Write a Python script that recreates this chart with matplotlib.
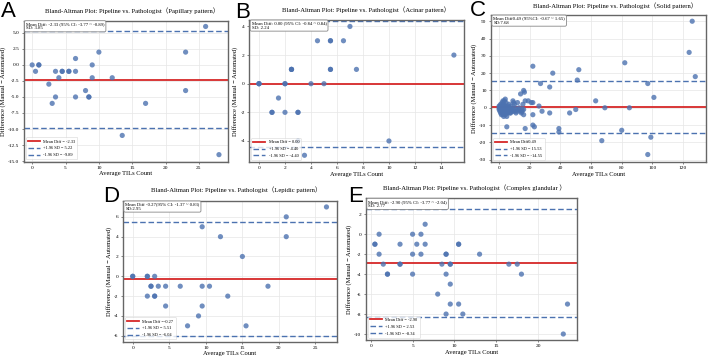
import numpy as np
import matplotlib
matplotlib.use('Agg')
import matplotlib.pyplot as plt

plt.rcParams['font.family'] = ['Liberation Serif', 'Noto Sans CJK SC', 'DejaVu Sans']
plt.rcParams['axes.unicode_minus'] = False

# ---------------- data ----------------
papillary_x = [0, 0.5, 1, 1, 2.5, 3, 3.5, 3.5, 4, 4.5, 4.5, 5.5, 5.5, 6.5, 6.5, 6.5,
               8, 8.5, 8.5, 9, 9, 10, 12, 13.5, 17, 23, 23, 26, 28]
papillary_y = [0, -1, 0, 0, -3, -6, -1, -5, -2, -1, -1, -1, -1, 1, -1, -5,
               -4, -5, -5, 0, -2, 2, -2, -11, -6, 2, -4, 6, -14]
papillary_stats = [-2.33, 5.22, -9.89]   # mean, +1.96SD, -1.96SD

acinar_x = [0, 0, 0, 1, 1, 1.5, 2, 2, 2, 2.5, 2.5, 2.5, 3, 3, 3, 3.5, 4, 4.5, 5,
            5.5, 5.5, 5.5, 5.5, 6.5, 7, 7.5, 10, 15]
acinar_y = [0, 0, 0, -2, -2, -1, 0, 0, -2, 1, 1, 1, -2, -2, -4, -5, 0, 3, 0,
            3, 3, 1, 1, 3, 4, 1, -4, 2]
acinar_stats = [0.00, 4.40, -4.40]

solid_x = [0, 0, 0, 0.5, 0.5, 0.5, 1, 1, 1, 1, 1,
           1.5, 1.5, 1.5, 1.5, 2, 2, 2, 2, 2,
           2.5, 2.5, 2.5, 2.5, 2.5, 3, 3, 3, 3, 3, 3,
           3.5, 3.5, 3.5, 3.5, 4, 4, 4, 4, 4,
           4.5, 4.5, 4.5, 5, 5, 5, 5.5, 5.5, 6, 6,
           6.5, 6.5, 7, 7, 7.5, 7.5, 8, 8.5, 9, 9,
           9.5, 9.5, 10, 10, 10.5, 11, 11.5, 12, 12, 13,
           13, 14, 14.5, 15, 15.5, 16, 16, 15,
           22, 35, 52, 51, 27, 33, 16, 16.5, 14, 17, 19, 21, 22, 26, 28, 33, 22, 22, 23, 17,
           5, 39, 39, 46, 50, 63, 69, 85, 82, 80, 67, 97, 101, 99, 97, 124, 126, 128]
solid_y = [0, -1, 1, 0, -2, 1, 0, -1, -3, 2, 0,
           -1, 1, -4, 0, 0, -2, 3, -3, -1,
           1, -1, -4, 4, 0, 2, 0, -2, -3, -5, -1,
           1, -1, -3, 4, 5, 0, -2, -4, 1,
           3, -1, -3, 0, -2, -5, 1, -3, 0, -2,
           -1, 2, 0, -3, 1, -3, -1, -2, 4, -1,
           3, -2, 0, 2, -2, -3, -1, 3, -2, 0,
           -1, -2, -3, -1, 2, -4, -1, -2,
           24, 20, 22, 16, 14, 12, 10, 9, 8, 4, 4, 3, 3, 1, -2, -3, -4, -10, -11, -12,
           -11, -12, -14, -3, -1, 4, 0, 0, 26, -13, -19, 14, 6, -17, -27, 32, 50, 18]
solid_stats = [0.49, 15.53, -14.55]

lepidic_x = [0, 0, 2, 2, 2, 2.5, 2.5, 3, 3, 3, 3.5, 4.5, 4.5, 6.5, 7.5, 9, 9.5, 9.5,
             9.5, 10.5, 12, 13, 15, 15.5, 18.5, 21, 21, 26.5]
lepidic_y = [0, 0, 0, 0, -2, -1, -1, 0, -2, -2, -1, -1, -3, -1, -5, -4, 5, -1,
             -3, -1, 4, -2, 2, -5, -1, 6, 4, 7]
lepidic_stats = [-0.27, 5.51, -6.04]

complex_x = [0.5, 0.5, 1, 1, 1.5, 2, 2, 3.5, 3.5, 3.5, 5, 5, 5, 5.5, 6, 6, 6.5, 6.5,
             8, 8.5, 9, 9, 9, 9, 9.5, 9.5, 9.5, 9.5, 10.5, 10.5, 10.5, 11, 13, 16.5,
             17.5, 18, 23, 23.5]
complex_y = [-1, -1, 0, -2, -3, -4, -4, -1, -3, -3, 0, -2, -4, -1, 0, -2, 1, -1,
             -6, -3, -2, -2, -4, -8, -3, -3, -5, -7, -1, -1, -7, -8, -2, -3,
             -3, -4, -10, -7]
complex_stats = [-2.90, 2.53, -8.34]

titles = ["Bland-Altman Plot: Pipeline vs. Pathologist（Papillary pattern）",
          "Bland-Altman Plot: Pipeline vs. Pathologist（Acinar pattern）",
          "Bland-Altman Plot: Pipeline vs. Pathologist（Solid pattern）",
          "Bland-Altman Plot: Pipeline vs. Pathologist（Lepidic pattern）",
          "Bland-Altman Plot: Pipeline vs. Pathologist（Complex glandular ）"]
notes = ["Mean Diff: -2.33 (95% CI: -3.77 ~ -0.89)\nSD: 3.85",
         "Mean Diff: 0.00 (95% CI: -0.84 ~ 0.84)\nSD: 2.24",
         "Mean Diff0.49 (95%CI: -0.67 ~ 1.65)\nSD:7.68",
         "Mean Diff -0.27(95% CI: -1.37 ~ 0.83)\nSD:2.95",
         "Mean Diff: -2.90 (95% CI: -3.77 ~ -2.04)\nSD: 2.77"]
legend_labels = [["Mean Diff = -2.33", "+1.96 SD = 5.22", "-1.96 SD = -9.89"],
                 ["Mean Diff = 0.00", "+1.96 SD = 4.40", "-1.96 SD = -4.40"],
                 ["Mean Diff0.49", "+1.96 SD = 15.53", "-1.96 SD = -14.55"],
                 ["Mean Diff =-0.27", "+1.96 SD = 5.51", "-1.96 SD = -6.04"],
                 ["Mean Diff = -2.90", "+1.96 SD = 2.53", "-1.96 SD = -8.34"]]
letters = ["A", "B", "C", "D", "E"]
xticks_all = [[0, 5, 10, 15, 20, 25], list(range(0, 15, 2)), list(range(0, 121, 20)),
              [0, 5, 10, 15, 20, 25], [0, 5, 10, 15, 20]]
yticks_all = [[5.0, 2.5, 0.0, -2.5, -5.0, -7.5, -10.0, -12.5, -15.0], [-4, -2, 0, 2, 4],
              list(range(-30, 51, 10)), [-6, -4, -2, 0, 2, 4, 6], [-10, -8, -6, -4, -2, 0, 2]]
yfmt = ["{:.1f}", "{:d}", "{:d}", "{:d}", "{:d}"]

# ---------------- layout (pixels) ----------------
W, H = 708, 358
fig = plt.figure(figsize=(W / 100, H / 100), dpi=100)

boxes = [(23.5, 20.7, 228.3, 161.7), (249, 20, 464.3, 162.3), (490.7, 15, 706, 162.3),
         (122.7, 201, 336.7, 341.7), (365.7, 198.3, 576.7, 340)]
xlims = [(-1.3, 29.4), (-0.77, 15.8), (-5.5, 135), (-1.37, 27.9), (-0.6, 24.6)]
ylims = [(-15.1, 6.9), (-5.49, 4.45), (-31.5, 53.6), (-6.6, 7.6), (-10.6, 3.6)]
title_pos = [(132, 11), (366, 10), (615, 5.5), (236, 190), (475, 188)]
letter_pos = [(1, 1), (235, 2), (470, 0), (103, 186), (348, 186)]

datasets = [(papillary_x, papillary_y, papillary_stats), (acinar_x, acinar_y, acinar_stats),
            (solid_x, solid_y, solid_stats), (lepidic_x, lepidic_y, lepidic_stats),
            (complex_x, complex_y, complex_stats)]

blue = '#4c72b0'
red = '#d62728'

for i, (x, y, st) in enumerate(datasets):
    l, t, r, b = boxes[i]
    ax = fig.add_axes([l / W, 1 - b / H, (r - l) / W, (b - t) / H])
    ax.grid(True, color='#e6e6e6', lw=0.5)
    ax.set_axisbelow(True)
    ax.scatter(x, y, s=14, color=blue, alpha=0.8, edgecolors='none', zorder=3)
    ax.axhline(st[0], color=red, lw=1.3, label=legend_labels[i][0], zorder=2)
    ax.axhline(st[1], color=blue, lw=1.0, ls=(0, (4, 2)), label=legend_labels[i][1], zorder=2)
    ax.axhline(st[2], color=blue, lw=1.0, ls=(0, (4, 2)), label=legend_labels[i][2], zorder=2)
    ax.set_xlim(*xlims[i])
    ax.set_ylim(*ylims[i])
    ax.set_xticks(xticks_all[i])
    ax.set_yticks(yticks_all[i])
    ax.set_yticklabels([yfmt[i].format(v) for v in yticks_all[i]])
    ax.tick_params(labelsize=3.9, length=1.5, width=0.5, pad=1.5, color='#555555')
    for sp in ax.spines.values():
        sp.set_color('#666666')
        sp.set_linewidth(1.0)
    ax.set_xlabel("Average TILs Count", fontsize=4.7, labelpad=1)
    ax.set_ylabel("Difference (Manual − Automated)", fontsize=4.7, labelpad=1.5)
    ax.text(0.012, 0.99, notes[i], transform=ax.transAxes, va='top', ha='left',
            fontsize=3.4, linespacing=1.1, zorder=5,
            bbox=dict(boxstyle='round,pad=0.3', fc='white', ec='#888888', lw=0.6))
    leg = ax.legend(loc='lower left', fontsize=3.2, frameon=True, handlelength=2.6,
                    borderpad=0.5, labelspacing=0.6, handletextpad=0.8,
                    bbox_to_anchor=(0.0, 0.0))
    leg.get_frame().set_linewidth(0.4)
    leg.get_frame().set_edgecolor('#cccccc')
    tx, ty = title_pos[i]
    fig.text(tx / W, 1 - ty / H, titles[i], ha='center', va='center', fontsize=4.8)
    lx, ly = letter_pos[i]
    fig.text(lx / W, 1 - ly / H, letters[i], ha='left', va='top', fontsize=16,
             family='Liberation Sans')

fig.savefig('out.png', dpi=100)
